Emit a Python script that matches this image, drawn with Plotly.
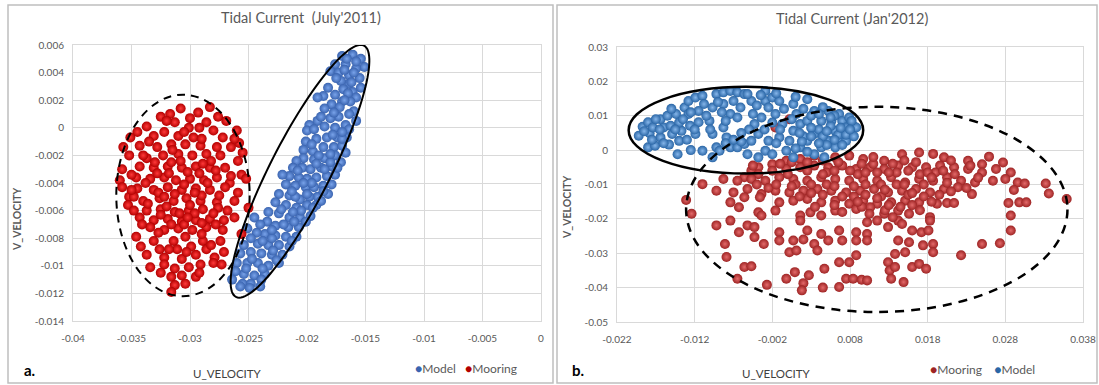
import math
import plotly.graph_objects as go

# ---------------- data ----------------
# Panel a: July 2011
jul_mooring_u = [
    -0.0283, -0.0308, -0.0317, -0.0325, -0.0293, -0.0300, -0.0276, -0.0313, -0.0301, -0.0286,
    -0.0269, -0.0337, -0.0345, -0.0331, -0.0322, -0.0310, -0.0297, -0.0280, -0.0272, -0.0260,
    -0.0258, -0.0351, -0.0357, -0.0343, -0.0328, -0.0316, -0.0304, -0.0291, -0.0277, -0.0265,
    -0.0255, -0.0352, -0.0337, -0.0323, -0.0310, -0.0298, -0.0286, -0.0274, -0.0259, -0.0358,
    -0.0343, -0.0331, -0.0319, -0.0307, -0.0295, -0.0283, -0.0270, -0.0256, -0.0252, -0.0360,
    -0.0346, -0.0334, -0.0322, -0.0312, -0.0300, -0.0288, -0.0277, -0.0266, -0.0358, -0.0345,
    -0.0331, -0.0319, -0.0307, -0.0295, -0.0283, -0.0270, -0.0259, -0.0352, -0.0340, -0.0326,
    -0.0314, -0.0303, -0.0291, -0.0277, -0.0262, -0.0353, -0.0337, -0.0325, -0.0313, -0.0301,
    -0.0289, -0.0276, -0.0250, -0.0343, -0.0331, -0.0319, -0.0307, -0.0295, -0.0283, -0.0271,
    -0.0334, -0.0322, -0.0310, -0.0298, -0.0286, -0.0272, -0.0346, -0.0331, -0.0314, -0.0304,
    -0.0289, -0.0274, -0.0256, -0.0342, -0.0326, -0.0311, -0.0299, -0.0286, -0.0337, -0.0322,
    -0.0307, -0.0295, -0.0279, -0.0271, -0.0334, -0.0322, -0.0313, -0.0301, -0.0291, -0.0280,
    -0.0273, -0.0316, -0.0307, -0.0295, -0.0313, -0.0304, -0.0316, -0.0318, -0.0305, -0.0292,
    -0.0327, -0.0300, -0.0313, -0.0285, -0.0338, -0.0320, -0.0296, -0.0308, -0.0282, -0.0330,
    -0.0315, -0.0290, -0.0275, -0.0348, -0.0325, -0.0305, -0.0290,
    -0.0340, -0.0328, -0.0316, -0.0302, -0.0289, -0.0278, -0.0265, -0.0350, -0.0336, -0.0322,
    -0.0309, -0.0296, -0.0280, -0.0268, -0.0341, -0.0327, -0.0316, -0.0302, -0.0290, -0.0278,
    -0.0318, -0.0303, -0.0292, -0.0325, -0.0335, -0.0305, -0.0290, -0.0320, -0.0292, -0.0262,
    -0.0348, -0.0262, -0.0282, -0.0350,
]
jul_mooring_v = [
    0.0015, 0.0014, 0.0010, 0.0008, 0.0011, 0.0007, 0.0008, 0.0004, 0.0000, 0.0004,
    0.0005, 0.0001, -0.0003, -0.0006, -0.0003, -0.0006, -0.0007, -0.0002, -0.0007, -0.0002,
    -0.0011, -0.0007, -0.0014, -0.0013, -0.0014, -0.0012, -0.0012, -0.0013, -0.0014, -0.0014,
    -0.0018, -0.0020, -0.0022, -0.0020, -0.0019, -0.0020, -0.0019, -0.0020, -0.0024, -0.0030,
    -0.0028, -0.0029, -0.0028, -0.0029, -0.0028, -0.0029, -0.0029, -0.0034, -0.0037, -0.0038,
    -0.0036, -0.0037, -0.0036, -0.0038, -0.0037, -0.0038, -0.0036, -0.0040, -0.0043, -0.0044,
    -0.0045, -0.0043, -0.0045, -0.0044, -0.0045, -0.0043, -0.0047, -0.0050, -0.0053, -0.0051,
    -0.0053, -0.0051, -0.0053, -0.0054, -0.0053, -0.0056, -0.0060, -0.0059, -0.0061, -0.0060,
    -0.0059, -0.0058, -0.0058, -0.0065, -0.0067, -0.0066, -0.0068, -0.0067, -0.0066, -0.0067,
    -0.0072, -0.0074, -0.0073, -0.0074, -0.0072, -0.0074, -0.0079, -0.0082, -0.0082, -0.0079,
    -0.0082, -0.0082, -0.0077, -0.0086, -0.0088, -0.0088, -0.0086, -0.0088, -0.0092, -0.0094,
    -0.0095, -0.0092, -0.0094, -0.0090, -0.0101, -0.0099, -0.0102, -0.0101, -0.0099, -0.0098,
    -0.0099, -0.0108, -0.0107, -0.0108, -0.0114, -0.0113, -0.0119, -0.0033, -0.0041, -0.0033,
    -0.0047, -0.0056, -0.0048, -0.0040, -0.0040, -0.0057, -0.0062, -0.0024, -0.0024, -0.0025,
    -0.0016, -0.0049, -0.0049, -0.0050, -0.0063, -0.0070, -0.0069,
    -0.0020, -0.0033, -0.0025, -0.0032, -0.0026, -0.0031, -0.0035, -0.0045, -0.0055, -0.0050,
    -0.0062, -0.0047, -0.0062, -0.0060, -0.0070, -0.0076, -0.0070, -0.0065, -0.0077, -0.0070,
    -0.0088, -0.0090, -0.0105, -0.0105, -0.0010, -0.0003, -0.0008, 0.0005, 0.0000, -0.0008,
    -0.0060, -0.0065, -0.0085, -0.0034,
]
jul_model_u = [
    -0.0170, -0.0161, -0.0154, -0.0151, -0.0176, -0.0167, -0.0158, -0.0180, -0.0173, -0.0164,
    -0.0155, -0.0154, -0.0164, -0.0171, -0.0186, -0.0191, -0.0176, -0.0169, -0.0161, -0.0158,
    -0.0163, -0.0170, -0.0179, -0.0185, -0.0160, -0.0164, -0.0173, -0.0180, -0.0191, -0.0198,
    -0.0200, -0.0194, -0.0185, -0.0176, -0.0167, -0.0164, -0.0166, -0.0174, -0.0183, -0.0192,
    -0.0201, -0.0203, -0.0195, -0.0186, -0.0177, -0.0170, -0.0167, -0.0176, -0.0185, -0.0194,
    -0.0203, -0.0209, -0.0212, -0.0204, -0.0197, -0.0188, -0.0179, -0.0171, -0.0176, -0.0183,
    -0.0192, -0.0200, -0.0207, -0.0215, -0.0221, -0.0218, -0.0210, -0.0201, -0.0194, -0.0186,
    -0.0179, -0.0182, -0.0191, -0.0198, -0.0206, -0.0215, -0.0224, -0.0227, -0.0218, -0.0209,
    -0.0200, -0.0192, -0.0188, -0.0197, -0.0206, -0.0215, -0.0224, -0.0233, -0.0234, -0.0227,
    -0.0216, -0.0207, -0.0201, -0.0209, -0.0218, -0.0227, -0.0236, -0.0243, -0.0245, -0.0251,
    -0.0242, -0.0233, -0.0224, -0.0215, -0.0221, -0.0230, -0.0239, -0.0248, -0.0254, -0.0257,
    -0.0260, -0.0251, -0.0242, -0.0233, -0.0224, -0.0236, -0.0245, -0.0254, -0.0261, -0.0264,
    -0.0255, -0.0248, -0.0239, -0.0257, -0.0249, -0.0240, -0.0190, -0.0185, -0.0196, -0.0180,
    -0.0200, -0.0210, -0.0205, -0.0178, -0.0170, -0.0172, -0.0165, -0.0160, -0.0168, -0.0220,
    -0.0230,
    -0.0158, -0.0166, -0.0175, -0.0162, -0.0182, -0.0168, -0.0177, -0.0188, -0.0158, -0.0170,
    -0.0180, -0.0196, -0.0208, -0.0192, -0.0174, -0.0186, -0.0203, -0.0213, -0.0195, -0.0212,
    -0.0222, -0.0211, -0.0240, -0.0230, -0.0213, -0.0238, -0.0248, -0.0226, -0.0247, -0.0252,
    -0.0238, -0.0229,
]
jul_model_v = [
    0.0052, 0.0053, 0.0050, 0.0044, 0.0046, 0.0046, 0.0043, 0.0041, 0.0040, 0.0038,
    0.0036, 0.0029, 0.0032, 0.0034, 0.0023, 0.0022, 0.0024, 0.0028, 0.0026, 0.0022,
    0.0019, 0.0019, 0.0017, 0.0014, 0.0012, 0.0010, 0.0008, 0.0007, 0.0005, 0.0002,
    -0.0002, -0.0001, 0.0001, 0.0000, 0.0002, -0.0001, -0.0007, -0.0007, -0.0007, -0.0008,
    -0.0010, -0.0016, -0.0017, -0.0014, -0.0014, -0.0013, -0.0018, -0.0020, -0.0022, -0.0023,
    -0.0022, -0.0024, -0.0029, -0.0029, -0.0030, -0.0029, -0.0028, -0.0025, -0.0034, -0.0035,
    -0.0036, -0.0037, -0.0036, -0.0035, -0.0034, -0.0041, -0.0042, -0.0043, -0.0043, -0.0042,
    -0.0041, -0.0048, -0.0050, -0.0050, -0.0052, -0.0049, -0.0048, -0.0054, -0.0056, -0.0058,
    -0.0056, -0.0056, -0.0053, -0.0064, -0.0065, -0.0065, -0.0062, -0.0061, -0.0068, -0.0071,
    -0.0072, -0.0072, -0.0068, -0.0079, -0.0079, -0.0078, -0.0077, -0.0076, -0.0065, -0.0073,
    -0.0084, -0.0085, -0.0085, -0.0086, -0.0092, -0.0092, -0.0091, -0.0090, -0.0085, -0.0091,
    -0.0098, -0.0098, -0.0098, -0.0100, -0.0098, -0.0106, -0.0107, -0.0106, -0.0104, -0.0110,
    -0.0113, -0.0113, -0.0110, -0.0115, -0.0116, -0.0115, -0.0020, -0.0030, -0.0040, -0.0025,
    -0.0048, -0.0050, -0.0060, -0.0005, -0.0008, 0.0015, 0.0025, 0.0040, 0.0042, -0.0070,
    -0.0080,
    0.0048, 0.0050, 0.0036, 0.0033, 0.0029, 0.0020, 0.0011, 0.0008, 0.0005, -0.0003,
    -0.0019, -0.0012, -0.0031, -0.0026, -0.0029, -0.0046, -0.0040, -0.0046, -0.0058, -0.0061,
    -0.0059, -0.0068, -0.0070, -0.0074, -0.0082, -0.0082, -0.0080, -0.0096, -0.0095, -0.0102,
    -0.0102, -0.0089,
]

# Panel b: January 2012
jan_model_u = [
    -0.0192, -0.0187, -0.0180, -0.0178, -0.0174, -0.0180, -0.0171, -0.0164, -0.0160, -0.0164,
    -0.0155, -0.0151, -0.0149, -0.0153, -0.0142, -0.0140, -0.0137, -0.0144, -0.0133, -0.0128,
    -0.0126, -0.0128, -0.0119, -0.0110, -0.0108, -0.0115, -0.0115, -0.0119, -0.0110, -0.0097,
    -0.0092, -0.0097, -0.0101, -0.0097, -0.0092, -0.0083, -0.0074, -0.0065, -0.0056, -0.0083,
    -0.0070, -0.0074, -0.0065, -0.0061, -0.0083, -0.0079, -0.0088, -0.0074, -0.0065, -0.0056,
    -0.0047, -0.0052, -0.0038, -0.0038, -0.0043, -0.0034, -0.0029, -0.0020, -0.0011, -0.0025,
    -0.0047, -0.0052, -0.0029, -0.0016, -0.0007, -0.0011, -0.0025, -0.0029, -0.0020, -0.0002,
    0.0002, 0.0007, 0.0016, 0.0011, 0.0007, 0.0025, 0.0034, 0.0025, 0.0034, 0.0043,
    0.0052, 0.0056, 0.0061, 0.0066, 0.0070, 0.0075, 0.0079, 0.0084, 0.0079, 0.0066,
    0.0052, 0.0043, 0.0034, 0.0016, 0.0007, 0.0025, 0.0088, 0.0075, 0.0061, 0.0047,
    0.0040, 0.0055, 0.0065, 0.0045, 0.0030, 0.0060, 0.0075, 0.0050, 0.0020, -0.0140,
    -0.0165, -0.0130, -0.0050, -0.0010, 0.0018,
    -0.0185, -0.0170, -0.0150, -0.0135, -0.0120, -0.0105, -0.0090, -0.0080, -0.0060, -0.0045,
    -0.0035, -0.0020, -0.0005, 0.0010, 0.0015, 0.0030, 0.0045, 0.0050, 0.0068, 0.0082,
    0.0085, 0.0070, 0.0040, 0.0025, 0.0010, -0.0060, -0.0080, -0.0125, -0.0030, 0.0055,
    -0.0175, -0.0160, -0.0145, -0.0125, -0.0100, -0.0085, -0.0070, -0.0040, -0.0015, 0.0005,
    0.0020, 0.0040, 0.0060, 0.0080, 0.0030, -0.0015,
]
jan_model_v = [
    0.0042, 0.0068, 0.0081, 0.0049, 0.0066, 0.0008, 0.0013, 0.0037, 0.0066, 0.0090,
    0.0100, 0.0071, 0.0047, 0.0016, -0.0012, 0.0027, 0.0056, 0.0105, 0.0124, 0.0105,
    0.0071, 0.0143, 0.0153, 0.0158, 0.0134, 0.0114, 0.0081, 0.0047, -0.0002, -0.0021,
    0.0008, 0.0047, 0.0085, 0.0124, 0.0163, 0.0168, 0.0172, 0.0168, 0.0163, 0.0134,
    0.0143, 0.0105, 0.0095, 0.0124, 0.0066, 0.0037, -0.0002, 0.0008, 0.0008, 0.0018,
    0.0027, -0.0012, -0.0021, 0.0047, 0.0076, 0.0095, 0.0143, 0.0153, 0.0143, 0.0124,
    0.0143, 0.0163, 0.0172, 0.0105, 0.0076, 0.0037, 0.0027, -0.0002, -0.0012, -0.0002,
    0.0027, 0.0056, 0.0076, 0.0105, 0.0134, 0.0148, 0.0114, 0.0085, 0.0047, 0.0085,
    0.0114, 0.0085, 0.0056, 0.0105, 0.0085, 0.0066, 0.0095, 0.0071, 0.0047, 0.0027,
    0.0027, 0.0008, -0.0012, 0.0008, -0.0021, 0.0027, 0.0066, 0.0027, 0.0008, -0.0021,
    0.0060, 0.0070, 0.0045, 0.0040, 0.0065, 0.0100, 0.0045, 0.0015, 0.0040, 0.0080,
    0.0060, 0.0030, 0.0060, 0.0060, 0.0025,
    0.0055, 0.0090, 0.0120, 0.0090, 0.0060, 0.0100, 0.0140, 0.0085, 0.0050, 0.0105,
    0.0160, 0.0080, 0.0120, 0.0155, 0.0050, 0.0100, 0.0125, 0.0055, 0.0065, 0.0085,
    0.0040, 0.0015, 0.0020, -0.0005, 0.0005, 0.0025, 0.0020, 0.0000, 0.0060, 0.0095,
    0.0030, 0.0020, 0.0060, 0.0110, 0.0060, 0.0110, 0.0030, 0.0130, 0.0165, 0.0090,
    0.0120, 0.0105, 0.0030, 0.0060, 0.0040, 0.0020,
]
jan_mooring_u = [
    0.0169, 0.0187, 0.0201, 0.0232, 0.0259, 0.0277, 0.0250, 0.0147, 0.0124, 0.0097,
    0.0079, 0.0061, 0.0034, 0.0016, -0.0002, -0.0020, -0.0038, -0.0047,
    -0.0056, -0.0038, -0.0020, -0.0002, 0.0016, 0.0034, 0.0052, 0.0070, 0.0088, 0.0106,
    0.0124, 0.0142, 0.0160, 0.0178, 0.0196, 0.0214, 0.0232, 0.0250, 0.0268, 0.0287,
    -0.0083, -0.0065, -0.0047, -0.0029, -0.0011, 0.0007, 0.0025, 0.0043, 0.0061, 0.0079,
    0.0097, 0.0115, 0.0133, 0.0151, 0.0169, 0.0187, 0.0205, 0.0223, 0.0241, 0.0264,
    0.0280, 0.0296, 0.0305, 0.0332,
    -0.0110, -0.0092, -0.0070, -0.0052, -0.0034, -0.0016, 0.0002, 0.0020, 0.0038, 0.0056,
    0.0075, 0.0093, 0.0111, 0.0129, 0.0147, 0.0165, 0.0183, 0.0201, 0.0219, 0.0237,
    0.0291, 0.0336, 0.0359,
    -0.0131, -0.0074, -0.0056, -0.0036, -0.0011, 0.0007, 0.0025, 0.0043, 0.0061, 0.0079,
    0.0097, 0.0115, 0.0133, 0.0151, 0.0169, 0.0192, 0.0205, 0.0214, 0.0284, 0.0298,
    0.0307,
    -0.0124, -0.0063, -0.0038, -0.0016, 0.0016, 0.0029, 0.0043, 0.0061, 0.0088, 0.0106,
    0.0124, 0.0142, 0.0156, 0.0183, 0.0287, -0.0034, 0.0016, 0.0115, 0.0142, 0.0183,
    -0.0092, -0.0074, -0.0052, 0.0102,
    -0.0063, -0.0043, -0.0011, 0.0025, 0.0043, 0.0066, 0.0088, 0.0102, 0.0160, 0.0172,
    0.0181, 0.0287, 0.0129, 0.0147,
    -0.0081, -0.0043, -0.0031, -0.0011, 0.0007, 0.0020, 0.0034, 0.0052, 0.0070, 0.0088,
    0.0102, 0.0142, 0.0156, 0.0174, 0.0187, 0.0250, 0.0273,
    -0.0079, 0.0002, 0.0011, 0.0038, 0.0088, 0.0138, 0.0151, 0.0187, 0.0223,
    -0.0056, -0.0047, 0.0047, 0.0066, 0.0079, 0.0129, 0.0131, 0.0160, 0.0169, 0.0178,
    0.0138,
    -0.0065, -0.0027, -0.0002, 0.0009, 0.0027, 0.0020, 0.0045, 0.0066, 0.0075, 0.0084,
    0.0095, 0.0102, 0.0133, 0.0149, 0.0018,
    -0.0016, 0.0002, 0.0050, 0.0090, 0.0120, 0.0140, 0.0100, 0.0170, 0.0030, 0.0070,
    0.0155, 0.0110, 0.0190, 0.0065, 0.0000, 0.0145, 0.0125, 0.0105,
    0.0025, 0.0045, 0.0080, 0.0100, 0.0130, 0.0155, 0.0180, 0.0200, 0.0010, 0.0050,
    0.0085, 0.0140, 0.0175, 0.0205, 0.0015, 0.0045, 0.0085, 0.0120, 0.0175, 0.0230,
    0.0045, 0.0110, 0.0150, 0.0210, -0.0025, 0.0095, 0.0135, 0.0160, 0.0060, 0.0245,
    -0.0045, -0.0010, 0.0005, 0.0025, 0.0060, 0.0095, 0.0115, 0.0135, 0.0165, 0.0185,
    0.0215, 0.0235, 0.0005, 0.0030, 0.0060, 0.0100, 0.0125, 0.0150, 0.0160, 0.0195,
    0.0035, 0.0070, 0.0090, 0.0115, 0.0130, 0.0170, -0.0015, -0.0040, 0.0210, 0.0185,
]
jan_mooring_v = [
    -0.0007, -0.0011, -0.0021, -0.0031, -0.0019, -0.0036, -0.0041, -0.0012, -0.0031, -0.0026,
    -0.0016, -0.0021, -0.0016, -0.0026, -0.0031, -0.0041, -0.0050, -0.0060,
    -0.0079, -0.0070, -0.0060, -0.0055, -0.0050, -0.0045, -0.0050, -0.0045, -0.0055, -0.0050,
    -0.0055, -0.0045, -0.0050, -0.0050, -0.0045, -0.0050, -0.0055, -0.0065, -0.0055, -0.0065,
    -0.0084, -0.0089, -0.0084, -0.0089, -0.0079, -0.0084, -0.0089, -0.0079, -0.0084, -0.0089,
    -0.0084, -0.0089, -0.0079, -0.0094, -0.0084, -0.0089, -0.0079, -0.0089, -0.0094, -0.0089,
    -0.0084, -0.0094, -0.0097, -0.0097,
    -0.0099, -0.0118, -0.0123, -0.0113, -0.0128, -0.0118, -0.0123, -0.0118, -0.0113, -0.0118,
    -0.0123, -0.0118, -0.0113, -0.0123, -0.0118, -0.0113, -0.0123, -0.0113, -0.0108, -0.0128,
    -0.0116, -0.0126, -0.0142,
    -0.0145, -0.0152, -0.0137, -0.0137, -0.0152, -0.0147, -0.0142, -0.0152, -0.0147, -0.0156,
    -0.0147, -0.0156, -0.0152, -0.0147, -0.0152, -0.0156, -0.0154, -0.0154, -0.0154, -0.0152,
    -0.0152,
    -0.0185, -0.0166, -0.0181, -0.0176, -0.0190, -0.0181, -0.0190, -0.0176, -0.0171, -0.0166,
    -0.0185, -0.0176, -0.0185, -0.0195, -0.0190, -0.0190, -0.0205, -0.0205, -0.0205, -0.0205,
    -0.0219, -0.0205, -0.0219, -0.0210,
    -0.0239, -0.0224, -0.0239, -0.0234, -0.0244, -0.0234, -0.0239, -0.0244, -0.0234, -0.0239,
    -0.0234, -0.0234, -0.0224, -0.0215,
    -0.0273, -0.0253, -0.0273, -0.0263, -0.0263, -0.0260, -0.0273, -0.0263, -0.0263, -0.0263,
    -0.0263, -0.0263, -0.0268, -0.0277, -0.0273, -0.0273, -0.0271,
    -0.0311, -0.0297, -0.0292, -0.0292, -0.0306, -0.0302, -0.0297, -0.0297, -0.0306,
    -0.0340, -0.0338, -0.0345, -0.0326, -0.0326, -0.0326, -0.0350, -0.0340, -0.0331, -0.0345,
    -0.0340,
    -0.0374, -0.0392, -0.0374, -0.0355, -0.0364, -0.0387, -0.0400, -0.0398, -0.0374, -0.0374,
    -0.0377, -0.0379, -0.0374, -0.0384, -0.0408,
    0.0066, 0.0090, -0.0065, -0.0070, -0.0100, -0.0065, -0.0130, -0.0070, -0.0100, -0.0135,
    -0.0130, -0.0040, -0.0065, -0.0035, -0.0070, -0.0165, -0.0175, -0.0185,
    -0.0060, -0.0070, -0.0060, -0.0065, -0.0065, -0.0060, -0.0065, -0.0060, -0.0100, -0.0100,
    -0.0105, -0.0100, -0.0100, -0.0095, -0.0135, -0.0130, -0.0135, -0.0135, -0.0135, -0.0110,
    -0.0030, -0.0020, -0.0030, -0.0030, -0.0110, -0.0165, -0.0195, -0.0160, -0.0160, -0.0080,
    -0.0045, -0.0040, -0.0035, -0.0035, -0.0060, -0.0040, -0.0065, -0.0040, -0.0035, -0.0080,
    -0.0070, -0.0045, -0.0105, -0.0125, -0.0105, -0.0100, -0.0115, -0.0100, -0.0125, -0.0130,
    -0.0165, -0.0180, -0.0150, -0.0140, -0.0160, -0.0175, -0.0100, -0.0100, -0.0120, -0.0150,
]

# Axis ticks and labels
jul_x_ticks = [-0.04, -0.035, -0.03, -0.025, -0.02, -0.015, -0.01, -0.005, 0]
jul_x_labels = ["-0.04", "-0.035", "-0.03", "-0.025", "-0.02", "-0.015", "-0.01", "-0.005", "0"]
jul_y_ticks = [0.006, 0.004, 0.002, 0, -0.002, -0.004, -0.006, -0.008, -0.01, -0.012, -0.014]
jul_y_labels = ["0.006", "0.004", "0.002", "0", "-0.002", "-0.004", "-0.006", "-0.008",
                "-0.01", "-0.012", "-0.014"]
jan_x_ticks = [-0.022, -0.012, -0.002, 0.008, 0.018, 0.028, 0.038]
jan_x_labels = ["-0.022", "-0.012", "-0.002", "0.008", "0.018", "0.028", "0.038"]
jan_y_ticks = [0.03, 0.02, 0.01, 0, -0.01, -0.02, -0.03, -0.04, -0.05]
jan_y_labels = ["0.03", "0.02", "0.01", "0", "-0.01", "-0.02", "-0.03", "-0.04", "-0.05"]

assert len(jul_mooring_u) == len(jul_mooring_v)
assert len(jul_model_u) == len(jul_model_v)
assert len(jan_model_u) == len(jan_model_v)
assert len(jan_mooring_u) == len(jan_mooring_v)

# ---------------- layout constants ----------------
W, H = 1099, 385
FONT = "Lato, 'Open Sans', sans-serif"
GRAY = "#595959"
GRID = "#d9d9d9"


def pxx(x):
    return x / W


def pxy(y):
    return 1 - y / H


L_PX = (73, 541, 45, 321)     # left, right, top, bottom (pixels)
R_PX = (617, 1083, 47, 322)
JUL_XR, JUL_YR = (-0.04, 0.0), (-0.014, 0.006)
JAN_XR, JAN_YR = (-0.022, 0.038), (-0.05, 0.03)


def dom(px):
    l, r, t, b = px
    return [pxx(l), pxx(r)], [pxy(b), pxy(t)]


lxd, lyd = dom(L_PX)
rxd, ryd = dom(R_PX)

RED_A, RED_A_HI = "#b30000", "#ff3a3a"
BLUE_A, BLUE_A_HI = "#3a64b0", "#79a3ea"
RED_B, RED_B_HI = "#9e2424", "#e46a6a"
BLUE_B, BLUE_B_HI = "#2a66a6", "#86b6ea"
MSIZE = 10

fig = go.Figure()


def sc(x, y, name, c, chi, xa, ya):
    return go.Scatter(
        x=x, y=y, mode="markers", name=name, xaxis=xa, yaxis=ya, showlegend=False,
        marker=dict(size=MSIZE, color=c, line=dict(width=0),
                    gradient=dict(type="radial", color=chi)),
        hoverinfo="x+y+name",
    )


fig.add_trace(sc(jul_model_u, jul_model_v, "Model", BLUE_A, BLUE_A_HI, "x", "y"))
fig.add_trace(sc(jul_mooring_u, jul_mooring_v, "Mooring", RED_A, RED_A_HI, "x", "y"))
fig.add_trace(sc(jan_mooring_u, jan_mooring_v, "Mooring", RED_B, RED_B_HI, "x2", "y2"))
fig.add_trace(sc(jan_model_u, jan_model_v, "Model", BLUE_B, BLUE_B_HI, "x2", "y2"))

axis_common = dict(showgrid=True, gridcolor=GRID, gridwidth=1, zeroline=False,
                   showline=True, linecolor=GRID, linewidth=1, mirror=True,
                   ticks="", tickfont=dict(family=FONT, size=10, color=GRAY),
                   fixedrange=True, automargin=False)

fig.update_layout(
    width=W, height=H, autosize=False,
    margin=dict(l=0, r=0, t=0, b=0, pad=0),
    paper_bgcolor="white", plot_bgcolor="white",
    font=dict(family=FONT, color=GRAY),
    xaxis=dict(domain=lxd, range=JUL_XR, anchor="y", tickvals=jul_x_ticks,
               ticktext=jul_x_labels, ticklabelstandoff=8, **axis_common),
    yaxis=dict(domain=lyd, range=JUL_YR, anchor="x", tickvals=jul_y_ticks,
               ticktext=jul_y_labels, ticklabelstandoff=6, **axis_common),
    xaxis2=dict(domain=rxd, range=JAN_XR, anchor="y2", tickvals=jan_x_ticks,
                ticktext=jan_x_labels, ticklabelstandoff=8, **axis_common),
    yaxis2=dict(domain=ryd, range=JAN_YR, anchor="x2", tickvals=jan_y_ticks,
                ticktext=jan_y_labels, ticklabelstandoff=6, **axis_common),
    showlegend=False,
)

# ---------------- annotation ellipses ----------------
ELL_LINE = "black"
shapes = []
# panel a, mooring (dashed, axis aligned)
shapes.append(dict(type="circle", xref="x", yref="y", x0=-0.0363, x1=-0.0249,
                   y0=-0.0122, y1=0.0024,
                   line=dict(color=ELL_LINE, width=2, dash="8px,6px")))
# panel a, model (solid, rotated) - built in pixel space then mapped to data units
ell_center = (-0.0206, -0.00315)
ell_a_px, ell_b_px, ell_ang = 141, 30, 63.0
pxu = (L_PX[1] - L_PX[0]) / (JUL_XR[1] - JUL_XR[0])
pxv = (L_PX[3] - L_PX[2]) / (JUL_YR[1] - JUL_YR[0])
th = math.radians(ell_ang)
pts = []
for i in range(121):
    t = 2 * math.pi * i / 120
    px = ell_a_px * math.cos(t) * math.cos(th) - ell_b_px * math.sin(t) * math.sin(th)
    py = ell_a_px * math.cos(t) * math.sin(th) + ell_b_px * math.sin(t) * math.cos(th)
    pts.append((ell_center[0] + px / pxu, ell_center[1] + py / pxv))
path = "M " + " L ".join(f"{u:.6f},{v:.6f}" for u, v in pts) + " Z"
shapes.append(dict(type="path", xref="x", yref="y", path=path,
                   line=dict(color=ELL_LINE, width=2)))
# panel b, model (solid)
shapes.append(dict(type="circle", xref="x2", yref="y2", x0=-0.0205, x1=0.0097,
                   y0=-0.0068, y1=0.0184, line=dict(color=ELL_LINE, width=2.5)))
# panel b, mooring (dashed)
shapes.append(dict(type="circle", xref="x2", yref="y2", x0=-0.0131, x1=0.0360,
                   y0=-0.0471, y1=0.0126,
                   line=dict(color=ELL_LINE, width=2.5, dash="9px,7px")))

# panel frames
for x0, x1 in ((8, 553), (557, 1097)):
    shapes.append(dict(type="rect", xref="paper", yref="paper", x0=pxx(x0), x1=pxx(x1),
                       y0=pxy(383), y1=pxy(5), line=dict(color="#bfbfbf", width=1.5),
                       layer="below"))
fig.update_layout(shapes=shapes)

# ---------------- texts ----------------
def ann(text, x, y, size, color=GRAY, bold=False, angle=0, xanchor="center"):
    t = f"<b>{text}</b>" if bold else text
    return dict(text=t, x=pxx(x), y=pxy(y), xref="paper", yref="paper",
                showarrow=False, textangle=angle, xanchor=xanchor, yanchor="middle",
                font=dict(family=FONT, size=size, color=color))


annotations = [
    ann("Tidal Current\u00a0 (July'2011)", 301, 17, 14.5),
    ann("Tidal Current (Jan'2012)", 852, 18, 14.5),
    ann("V_VELOCITY", 17, 219, 10.5, bold=True, angle=-90),
    ann("V_VELOCITY", 567, 207, 10.5, bold=True, angle=-90),
    ann("U_VELOCITY", 227, 373, 11.5, color="#404040"),
    ann("U_VELOCITY", 776, 373, 11.5, color="#404040"),
    ann("a.", 22, 370, 15, color="black", bold=True, xanchor="left"),
    ann("b.", 570, 370, 15, color="black", bold=True, xanchor="left"),
    ann(f"<span style='color:{BLUE_A}'>●</span>Model\u00a0\u00a0\u00a0"
        f"<span style='color:{RED_A}'>●</span>Mooring", 413, 368, 12, xanchor="left"),
    ann(f"<span style='color:{RED_B}'>●</span>Mooring\u00a0\u00a0\u00a0\u00a0"
        f"<span style='color:{BLUE_B}'>●</span>Model", 928, 369, 12, xanchor="left"),
]
fig.update_layout(annotations=annotations)

# Remove the browser's default 8px body margin so the figure sits at the page origin.
fig.write_html(
    "out.html",
    config={"displayModeBar": False},
    post_script="document.body.style.margin='0';"
                "document.documentElement.style.overflow='hidden';",
)
